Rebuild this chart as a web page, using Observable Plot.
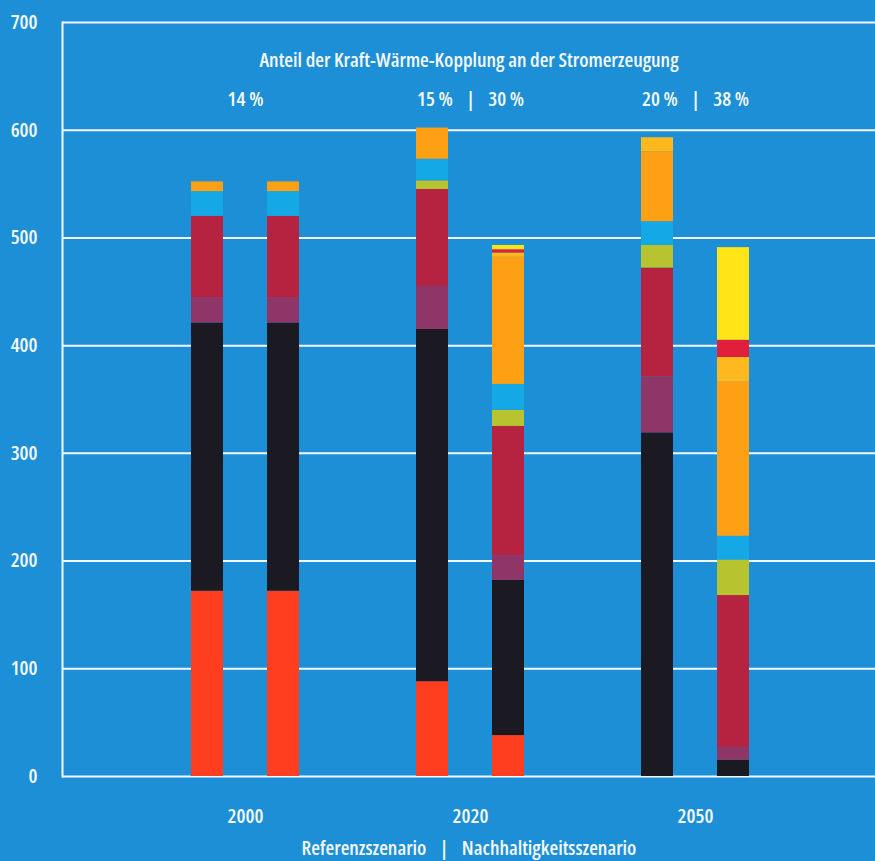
<!DOCTYPE html>
<html>
<head>
<meta charset="utf-8">
<script src="https://cdn.jsdelivr.net/npm/d3@7"></script>
<script src="https://cdn.jsdelivr.net/npm/@observablehq/plot@0.6"></script>
<style>
  html, body { margin: 0; padding: 0; background: #1c8fd6; }
  #chart svg { display: block; }
  #chart svg text { font-stretch: 75%; }
</style>
</head>
<body>
<div id="chart"></div>
<script>
// Stromerzeugung in TWh nach Energieträgern, Referenz- und Nachhaltigkeitsszenario
const years = ["2000", "2020", "2050"];
const scenarios = ["Referenzszenario", "Nachhaltigkeitsszenario"];
const categories = [
  "Kernenergie", "Kohle", "Öl und Sonstige", "Erdgas", "Biomasse",
  "Wasserkraft", "Windenergie", "Photovoltaik", "Geothermie", "EE-Import"
];
const categoryColors = [
  "#ff3d1f", "#1b1a22", "#8e3668", "#b52340", "#b8c330",
  "#14a8e6", "#fda014", "#ffb81e", "#e01f3d", "#ffe418"
];

// one array per bar, in the order of `categories` (bottom to top)
const referenz2000 = [172, 249, 23, 76, 0, 23, 9, 0, 0, 0];
const nachhaltig2000 = [172, 249, 23, 76, 0, 23, 9, 0, 0, 0];
const referenz2020 = [88, 327, 40, 90, 8, 20, 29, 0, 0, 0];
const nachhaltig2020 = [38, 144, 23, 120, 15, 24, 118, 4, 3, 4];
const referenz2050 = [0, 319, 52, 101, 21, 22, 65, 13, 0, 0];
const nachhaltig2050 = [0, 15, 12, 141, 33, 22, 143, 23, 16, 86];

const chpShares = ["14 %", "15 %\u2002 |\u2002 30 %", "20 %\u2002 |\u2002 38 %"];
const chartTitle = "Anteil der Kraft-Wärme-Kopplung an der Stromerzeugung";
const scenarioLabel = "Referenzszenario\u2002 |\u2002 Nachhaltigkeitsszenario";
const yTicks = [0, 100, 200, 300, 400, 500, 600, 700];

const barList = [
  [years[0], scenarios[0], referenz2000],
  [years[0], scenarios[1], nachhaltig2000],
  [years[1], scenarios[0], referenz2020],
  [years[1], scenarios[1], nachhaltig2020],
  [years[2], scenarios[0], referenz2050],
  [years[2], scenarios[1], nachhaltig2050]
];
const rows = barList.flatMap(([year, scenario, values]) =>
  values.map((value, i) => ({year, scenario, category: categories[i], value}))
).filter(d => d.value > 0);

const font = "'Open Sans', 'DejaVu Sans Condensed', sans-serif";
const ink = "#f4f8fb";
const size = 20;

const chart = Plot.plot({
  width: 875,
  height: 861,
  marginLeft: 62,
  marginRight: 0,
  marginTop: 22,
  marginBottom: 85,
  style: {background: "#1c8fd6", color: ink, fontFamily: font, fontSize: `${size}px`},
  x: {domain: years, paddingInner: 0.858, paddingOuter: 0.7277, align: 0.505},
  y: {domain: [0, 700]},
  color: {domain: categories, range: categoryColors},
  marks: [
    Plot.gridY(yTicks, {stroke: ink, strokeOpacity: 1, strokeWidth: 2}),
    Plot.frame({anchor: "left", stroke: ink, strokeWidth: 2}),
    Plot.axisY(yTicks, {
      tickSize: 0, tickPadding: 25, label: null,
      fontSize: size, fontWeight: 600, fill: ink
    }),
    Plot.axisX({
      tickSize: 0, tickPadding: 32, fontSize: size, fontWeight: 600, fill: ink,
      label: scenarioLabel, labelAnchor: "center", labelArrow: false, labelOffset: 78
    }),
    Plot.barY(rows.filter(d => d.scenario === scenarios[0]), {
      x: "year", y: "value", fill: "category", order: categories, dx: -38
    }),
    Plot.barY(rows.filter(d => d.scenario === scenarios[1]), {
      x: "year", y: "value", fill: "category", order: categories, dx: 38
    }),
    Plot.text([chartTitle], {
      frameAnchor: "top", dy: 30, fontSize: size, fontWeight: 600, fill: ink
    }),
    Plot.text(years, {
      x: d => d, text: (d, i) => chpShares[i], frameAnchor: "top", dy: 69,
      fontSize: size, fontWeight: 600, fill: ink
    })
  ]
});

document.getElementById("chart").append(chart);
</script>
</body>
</html>
